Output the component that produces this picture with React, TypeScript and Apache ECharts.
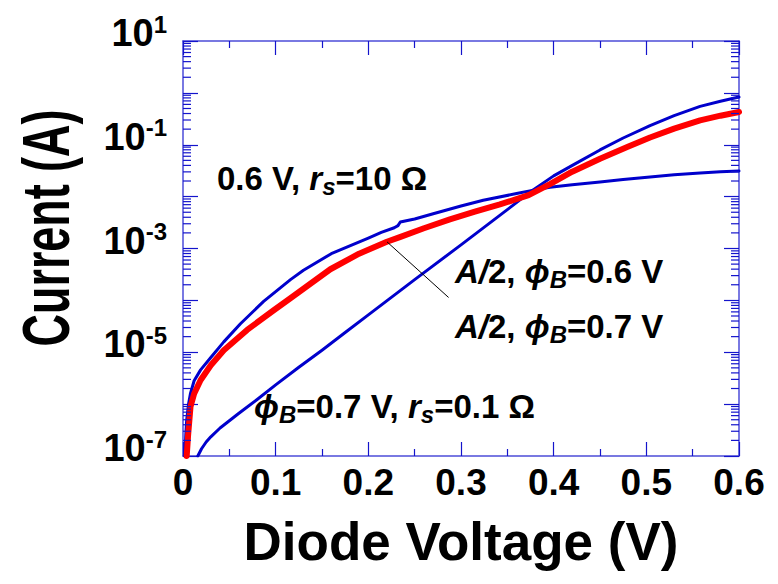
import React, { useEffect, useRef } from 'react';
import * as echarts from 'echarts';

// ---- Data ----
// Upper blue curve: 0.6 V, r_s = 10 Ω  (voltage in V, log10 of current in A)
const voltageBlueRs10 = [0.002, 0.003, 0.004, 0.006, 0.008, 0.012, 0.019, 0.03, 0.044, 0.062, 0.087, 0.116, 0.13, 0.16, 0.2, 0.214, 0.228, 0.232, 0.2345, 0.25, 0.27, 0.3, 0.324, 0.36, 0.377, 0.396, 0.42, 0.45, 0.475, 0.504, 0.53, 0.558, 0.58, 0.6];
const logCurrentBlueRs10 = [-7.0, -6.6, -6.3, -6.0, -5.8, -5.55, -5.34, -5.1, -4.8, -4.45, -4.02, -3.6, -3.42, -3.1, -2.8, -2.69, -2.6, -2.56, -2.49, -2.43, -2.33, -2.18, -2.07, -1.94, -1.88, -1.82, -1.77, -1.72, -1.67, -1.62, -1.58, -1.543, -1.52, -1.505];

// Lower blue curve: phi_B = 0.7 V, r_s = 0.1 Ω
const voltageBlueRs01 = [0.016, 0.02, 0.025, 0.03, 0.04, 0.06, 0.08, 0.1, 0.125, 0.15, 0.175, 0.2, 0.25, 0.3, 0.35, 0.377, 0.4, 0.425, 0.45, 0.475, 0.504, 0.53, 0.558, 0.58, 0.6];
const logCurrentBlueRs01 = [-7.0, -6.86, -6.73, -6.63, -6.46, -6.18, -5.91, -5.63, -5.29, -4.96, -4.62, -4.28, -3.6, -2.93, -2.25, -1.88, -1.6, -1.35, -1.1, -0.87, -0.63, -0.44, -0.26, -0.16, -0.08];

// Red curve: A/2
const voltageRed = [0.004, 0.0055, 0.0081, 0.012, 0.0189, 0.03, 0.044, 0.0692, 0.0979, 0.1159, 0.159, 0.19, 0.22, 0.234, 0.26, 0.288, 0.315, 0.342, 0.373, 0.396, 0.42, 0.45, 0.48, 0.504, 0.53, 0.558, 0.58, 0.6];
const logCurrentRed = [-7.0, -6.6, -6.05, -5.8, -5.54, -5.25, -4.96, -4.57, -4.19, -3.96, -3.4, -3.1, -2.87, -2.78, -2.61, -2.44, -2.29, -2.15, -1.97, -1.76, -1.52, -1.27, -1.04, -0.86, -0.69, -0.53, -0.44, -0.368];

// Leader line (voltage, log10 current) from the red curve to the label
const leaderVoltage = [0.2202, 0.2866];
const leaderLogCurrent = [-2.873, -3.944];

// Axes
const X_MIN = 0;
const X_MAX = 0.6;
const X_STEP = 0.1;
const Y_MIN_EXP = -7;
const Y_MAX_EXP = 1;
const labeledExponents = [1, -1, -3, -5, -7];

const FONT = "'Liberation Sans', Arial, Helvetica, sans-serif";
const AXIS_COLOR = '#4c4cd8';
const TICK_COLOR = '#1414cc';
const BLUE = '#0000cc';
const RED = '#ff0000';

const toPairs = (xs: number[], es: number[]) => xs.map((x, i) => [x, Math.pow(10, es[i])]);

// minor tick positions of the log axis: 2..9 within each decade
const minorTickValues: number[] = [];
for (let k = Y_MIN_EXP; k < Y_MAX_EXP; k++) {
  for (let m = 2; m <= 9; m++) minorTickValues.push(m * Math.pow(10, k));
}

const annotationRich = {
  n: { fontSize: 33, fontWeight: 'bold', fontFamily: FONT, lineHeight: 40, fill: '#000' },
  i: { fontSize: 33, fontWeight: 'bold', fontStyle: 'italic', fontFamily: FONT, lineHeight: 40, fill: '#000' },
  sub: { fontSize: 24, fontWeight: 'bold', fontStyle: 'italic', fontFamily: FONT, lineHeight: 18, verticalAlign: 'bottom', fill: '#000' },
};

const annotations = [
  { text: '{n|0.6 V, }{i|r}{sub|s}{n|=10 Ω}', x: 217, y: 178 },
  { text: '{i|A/}{n|2, }{i|ϕ}{sub|B}{n|=0.6 V}', x: 455, y: 271 },
  { text: '{i|A/}{n|2, }{i|ϕ}{sub|B}{n|=0.7 V}', x: 455, y: 326 },
  { text: '{i|ϕ}{sub|B}{n|=0.7 V, }{i|r}{sub|s}{n|=0.1 Ω}', x: 254, y: 406 },
];

export default function App() {
  const ref = useRef<HTMLDivElement>(null);

  useEffect(() => {
    if (!ref.current) return;
    const chart = echarts.init(ref.current, null, { renderer: 'svg' });

    const xAxisCommon = {
      type: 'value',
      min: X_MIN,
      max: X_MAX,
      interval: X_STEP,
      splitLine: { show: false },
      axisLine: { onZero: false, lineStyle: { color: AXIS_COLOR, width: 1.5 } },
      axisTick: { inside: true, length: 14, lineStyle: { color: TICK_COLOR, width: 1.2 } },
      minorTick: { show: true, splitNumber: 2, length: 7, lineStyle: { color: TICK_COLOR, width: 1.2 } },
    };
    const yAxisCommon = {
      type: 'log',
      logBase: 10,
      min: Math.pow(10, Y_MIN_EXP),
      max: Math.pow(10, Y_MAX_EXP),
      splitNumber: 8,
      splitLine: { show: false },
      axisLine: { onZero: false, lineStyle: { color: AXIS_COLOR, width: 1.5 } },
      axisTick: { inside: true, length: 15, lineStyle: { color: TICK_COLOR, width: 1.2 } },
      minorTick: { show: false },
    };

    const lineSeries = (name: string, data: number[][], color: string, width: number, z: number) => ({
      type: 'line',
      name,
      data,
      showSymbol: false,
      smooth: false,
      lineStyle: { color, width, join: 'round', cap: 'round' },
      itemStyle: { color },
      z,
    });

    const option = {
      animation: false,
      grid: { left: 183, top: 41, width: 556, height: 415, containLabel: false },
      xAxis: [
        {
          ...xAxisCommon,
          position: 'bottom',
          axisLabel: { margin: 8, color: '#000', fontSize: 37, fontWeight: 'bold', fontFamily: FONT },
          name: 'Diode Voltage (V)',
          nameLocation: 'middle',
          nameGap: 59,
          nameTextStyle: { color: '#000', fontSize: 53, fontWeight: 'bold', fontFamily: FONT },
        },
        { ...xAxisCommon, position: 'top', axisLabel: { show: false } },
      ],
      yAxis: [
        {
          ...yAxisCommon,
          position: 'left',
          axisLabel: {
            margin: 16,
            padding: [0, 0, 16, 0],
            fontSize: 38,
            fontWeight: 'bold',
            fontFamily: FONT,
            color: '#000',
            formatter: (v: number) => {
              const e = Math.round(Math.log10(v));
              return labeledExponents.indexOf(e) >= 0 ? `{b|10}{sup|${e}}` : '';
            },
            rich: {
              b: { fontSize: 38, fontWeight: 'bold', fontFamily: FONT, color: '#000', lineHeight: 42 },
              sup: { fontSize: 24, fontWeight: 'bold', fontFamily: FONT, color: '#000', lineHeight: 32, verticalAlign: 'top' },
            },
          },
        },
        { ...yAxisCommon, position: 'right', axisLabel: { show: false } },
      ],
      series: [
        {
          type: 'custom',
          xAxisIndex: 0,
          yAxisIndex: 0,
          silent: true,
          clip: false,
          z: 5,
          data: minorTickValues.map((v) => [X_MIN, v]),
          renderItem: (params: any, api: any) => {
            const v = api.value(1);
            const pL = api.coord([X_MIN, v]);
            const pR = api.coord([X_MAX, v]);
            const style = { stroke: TICK_COLOR, lineWidth: 1.2 };
            return {
              type: 'group',
              children: [
                { type: 'line', shape: { x1: pL[0], y1: pL[1], x2: pL[0] + 8, y2: pL[1] }, style },
                { type: 'line', shape: { x1: pR[0] - 8, y1: pR[1], x2: pR[0], y2: pR[1] }, style },
              ],
            };
          },
        },
        lineSeries('0.6 V, rs=10 Ω', toPairs(voltageBlueRs10, logCurrentBlueRs10), BLUE, 3, 2),
        lineSeries('φB=0.7 V, rs=0.1 Ω', toPairs(voltageBlueRs01, logCurrentBlueRs01), BLUE, 3, 2),
        {
          ...lineSeries('A/2', toPairs(voltageRed, logCurrentRed), RED, 6, 3),
          markLine: {
            silent: true,
            symbol: ['none', 'none'],
            label: { show: false },
            lineStyle: { color: '#000', width: 1, type: 'solid' },
            data: [
              [
                { coord: [leaderVoltage[0], Math.pow(10, leaderLogCurrent[0])] },
                { coord: [leaderVoltage[1], Math.pow(10, leaderLogCurrent[1])] },
              ],
            ],
          },
        },
      ],
      graphic: [
        {
          type: 'text',
          x: 46,
          y: 228,
          rotation: Math.PI / 2,
          scaleX: 0.68,
          style: {
            text: 'Current (A)',
            fontSize: 66,
            fontWeight: 'bold',
            fontFamily: FONT,
            fill: '#000',
            align: 'center',
            verticalAlign: 'middle',
          },
        },
        ...annotations.map((a) => ({
          type: 'text',
          x: a.x,
          y: a.y,
          z: 10,
          style: {
            text: a.text,
            rich: annotationRich,
            align: 'left',
            verticalAlign: 'middle',
            fill: '#000',
          },
        })),
      ],
    };

    chart.setOption(option as any);
    return () => chart.dispose();
  }, []);

  return (
    <div
      ref={ref}
      style={{ position: 'fixed', left: 0, top: 0, width: 778, height: 584, background: '#fff' }}
    />
  );
}
